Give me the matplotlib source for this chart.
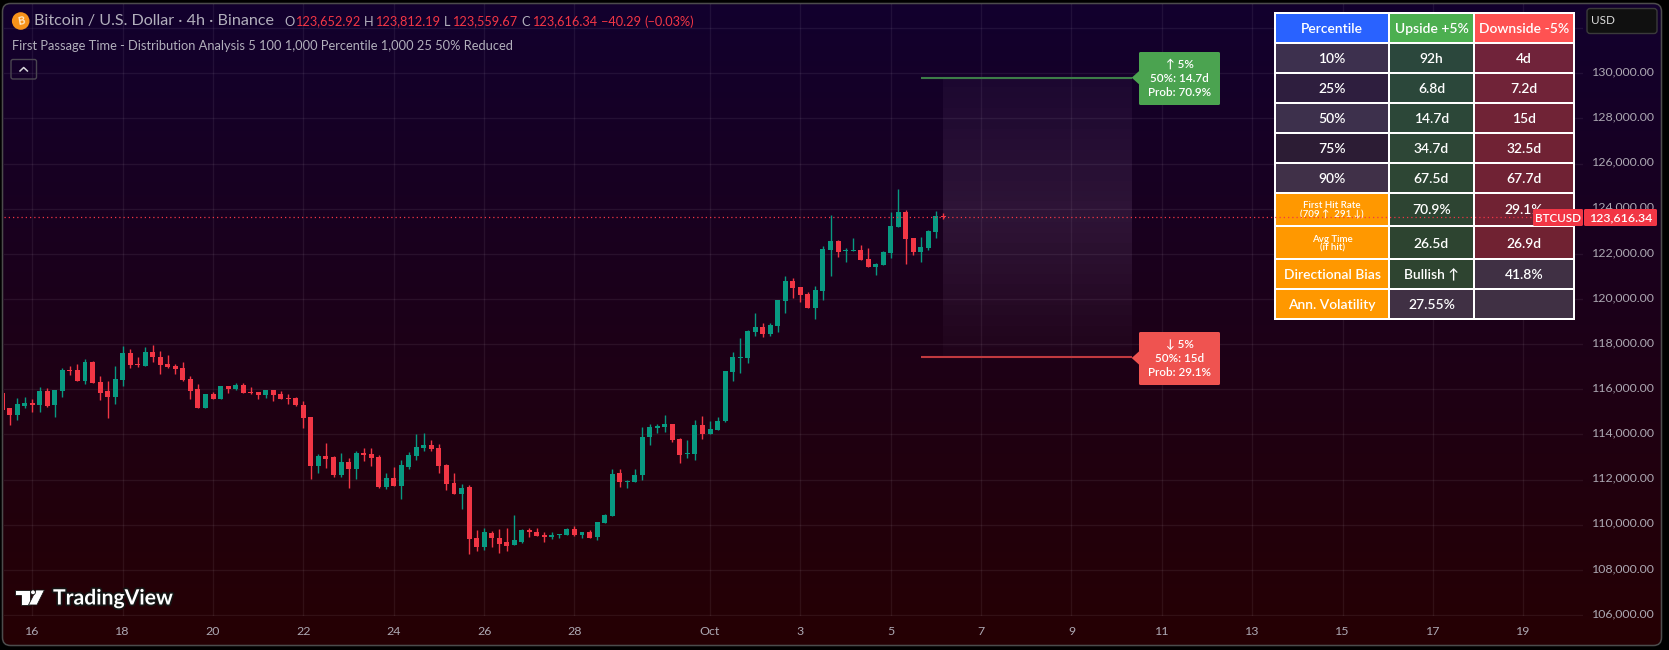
import numpy as np
import matplotlib
matplotlib.use("Agg")
import matplotlib.pyplot as plt
from matplotlib.patches import FancyBboxPatch, Polygon, Rectangle, Circle
from matplotlib.transforms import ScaledTranslation
import matplotlib.patheffects as pe

plt.rcParams['font.family'] = ['Lato', 'DejaVu Sans']

# 4h BTCUSD candles, oldest first
opens = [115840, 115170, 114860, 115260, 115390, 115310, 115930, 115310, 115930, 116860,
         116860, 116370, 117210, 116320, 115930, 115660, 116410, 117610, 117120, 117030,
         117650, 117430, 117120, 117030, 116950, 116460, 116010, 115170, 115790, 115570,
         116150, 116010, 116190, 115880, 115880, 115750, 115970, 115790, 115620, 115620,
         115310, 114770, 112600, 113050, 113000, 112200, 112780, 112470, 113180, 113140,
         113000, 111670, 112070, 111720, 112560, 113050, 113400, 113530, 113400, 112650,
         111850, 111360, 111670, 109410, 109020, 109640, 109410, 109240, 109100, 109240,
         109770, 109680, 109550, 109460, 109550, 109550, 109810, 109550, 109680, 109460,
         110080, 110390, 112290, 111890, 111890, 112200, 113890, 114290, 114330, 114460,
         113800, 113140, 113140, 114420, 114020, 114200, 114600, 116770, 117390, 117390,
         118540, 118760, 118450, 118810, 119910, 120800, 120530, 120220, 119600, 120360,
         122170, 122570, 122130, 122130, 122170, 121770, 121420, 121510, 122040, 123190,
         123860, 122700, 122080, 122260, 122970, 123652.92]
highs = [115840, 115170, 115620, 115660, 115570, 116100, 116060, 115970, 116950, 117030,
         117120, 117340, 117260, 116590, 116370, 117030, 117920, 117790, 117430, 117880,
         117960, 117700, 117520, 117120, 117210, 116590, 116240, 115790, 115880, 116150,
         116150, 116280, 116280, 116100, 115880, 115970, 115970, 115930, 115790, 115660,
         115480, 114770, 113140, 113620, 113050, 113180, 112960, 113270, 113400, 113400,
         113090, 112290, 112560, 112870, 113220, 114020, 114070, 113760, 113580, 112690,
         112290, 111810, 111760, 109770, 109860, 109720, 109810, 109860, 110430, 109810,
         109860, 109860, 109680, 109680, 109590, 109860, 109950, 109680, 109770, 110120,
         110480, 112470, 112470, 111980, 112470, 114330, 114460, 114460, 114860, 114460,
         113840, 113760, 114640, 114820, 114600, 114770, 116810, 117650, 118270, 118630,
         119380, 118940, 118940, 119960, 121020, 120930, 120530, 120310, 120580, 122350,
         123720, 122620, 122260, 122700, 122390, 122260, 121600, 122130, 123860, 124870,
         123940, 122700, 122750, 123060, 123900, 123812.19]
lows = [115080, 114420, 114640, 115170, 115000, 115000, 115220, 114770, 115660, 116640,
        116370, 116240, 116280, 115530, 114730, 115350, 116150, 116950, 116990, 117030,
        117210, 116680, 116950, 116680, 116370, 115570, 115170, 115170, 115570, 115570,
        115840, 115970, 115840, 115790, 115570, 115620, 115480, 115570, 115350, 115260,
        114290, 112030, 112290, 112510, 112120, 112120, 111630, 112030, 112830, 112600,
        111630, 111580, 111720, 111140, 112470, 112870, 113270, 113270, 112290, 111540,
        111360, 110700, 108700, 108840, 108880, 109020, 108750, 108840, 109100, 109190,
        109460, 109500, 109240, 109370, 109410, 109550, 109500, 109410, 109410, 109330,
        110080, 110390, 111670, 111630, 111890, 111980, 113530, 114070, 114110, 113670,
        112740, 112960, 112870, 113800, 114020, 114200, 114550, 116370, 116720, 117170,
        118360, 118320, 118360, 118540, 119380, 120050, 119870, 119600, 119120, 119960,
        121020, 121860, 121640, 122130, 121730, 121420, 121060, 121510, 121820, 123190,
        121550, 121950, 121640, 122170, 122700, 123559.67]
closes = [115080, 114860, 115350, 115390, 115310, 115930, 115260, 115970, 116860, 116810,
          116370, 117210, 116280, 115840, 115660, 116460, 117610, 117080, 117080, 117650,
          117430, 117080, 116990, 116900, 116410, 115930, 115170, 115790, 115570, 116150,
          116010, 116190, 115840, 115840, 115750, 115970, 115750, 115570, 115570, 115310,
          114730, 112600, 113050, 112910, 112200, 112780, 112470, 113180, 113090, 112960,
          111670, 112070, 111720, 112650, 113090, 113450, 113530, 113360, 112600, 111810,
          111360, 111630, 109370, 109020, 109680, 109410, 109150, 109060, 109330, 109770,
          109680, 109500, 109460, 109550, 109590, 109810, 109550, 109680, 109410, 110120,
          110430, 112250, 111890, 111940, 112200, 113890, 114330, 114380, 114460, 113760,
          113090, 113180, 114420, 114020, 114240, 114600, 116810, 117430, 117430, 118580,
          118760, 118450, 118850, 119960, 120800, 120490, 120180, 119600, 120400, 122220,
          122570, 122080, 122170, 122170, 121730, 121420, 121550, 122080, 123240, 123860,
          122660, 122080, 122300, 123010, 123680, 123616.34]

date_ticks = [5, 17, 29, 41, 53, 65, 77, 95, 107, 119, 131, 143, 155, 167, 179, 191, 203]
date_labels = ["16", "18", "20", "22", "24", "26", "28", "Oct", "3", "5", "7", "9", "11", "13", "15", "17", "19"]
price_ticks = [106000, 108000, 110000, 112000, 114000, 116000, 118000, 120000, 122000,
               124000, 126000, 128000, 130000, 132000]

last_price = 123616.34
upper_target = 129797.16
lower_target = 117435.52
target_start = 123
zone_start = 126
zone_end = 151

table_header = ["Percentile", "Upside +5%", "Downside -5%"]
row_labels = ["10%", "25%", "50%", "75%", "90%", "First Hit Rate\n(709 ↑  291 ↓)", "Avg Time\n(if hit)",
              "Directional Bias", "Ann. Volatility"]
upside_values = ["92h", "6.8d", "14.7d", "34.7d", "67.5d", "70.9%", "26.5d", "Bullish ↑", "27.55%"]
downside_values = ["4d", "7.2d", "15d", "32.5d", "67.7d", "29.1%", "26.9d", "41.8%", ""]

W, H = 1669, 650
GREEN = '#089981'
RED = '#f23645'
AXIS_TEXT = '#aca8b2'
XLIM = (1.242, 210.93)
YLIM = (105957, 133070)

fig = plt.figure(figsize=(W / 100, H / 100), dpi=100, facecolor='#000000')

# page layer: rounded frame with the top to bottom colour fade
back = fig.add_axes([0, 0, 1, 1], zorder=0)
top_col = np.array([18, 0, 46]) / 255
bot_col = np.array([38, 0, 3]) / 255
fade = np.linspace(0, 1, 256)[:, None, None] * (bot_col - top_col) + top_col
im = back.imshow(fade, extent=(0, W, H, 0), aspect='auto', origin='upper', interpolation='bilinear')
frame = FancyBboxPatch((2.5, 3.5), 1659, 642, boxstyle="round,pad=0,rounding_size=8",
                       fc='none', ec='#4c4c4c', lw=1.1)
back.add_patch(frame)
im.set_clip_path(frame)
back.set_xlim(0, W)
back.set_ylim(H, 0)
back.axis('off')

# price pane, limits put one bar at 7.53 px and 2000 USD at 45.13 px
pane = [4 / W, 1 - 616 / H, 1579 / W, 612 / H]
ax = fig.add_axes(pane, zorder=1)
ax.patch.set_alpha(0)
ax.set_axisbelow(True)
ax.grid(color='white', alpha=0.065, lw=1)
for s in ax.spines.values():
    s.set_visible(False)
ax.yaxis.tick_right()
ax.set_yticks(price_ticks)
ax.set_yticklabels([f"{p:,.2f}" if p < 132000 else "" for p in price_ticks])
ax.set_xticks(date_ticks)
ax.set_xticklabels(date_labels)
ax.tick_params(axis='y', length=0, pad=6.5, colors=AXIS_TEXT, labelsize=8.9)
ax.tick_params(axis='x', length=0, pad=7, colors=AXIS_TEXT, labelsize=8.9)
# price labels sit a little above their grid lines
lift = ScaledTranslation(0, 2.4 / 100, fig.dpi_scale_trans)
for t in ax.get_yticklabels():
    t.set_transform(t.get_transform() + lift)

bars = np.arange(1, len(opens) + 1)
o, h, l, c = map(np.array, (opens, highs, lows, closes))
colors = [GREEN if cl >= op else RED for op, cl in zip(opens, closes)]
ax.vlines(bars, l, h, colors=colors, lw=1, zorder=3)
ax.bar(bars, np.maximum(np.abs(c - o), 44), bottom=np.minimum(o, c), width=0.66, color=colors, lw=0, zorder=4)

# banded glow between the two targets
levels = np.interp(np.linspace(0, 1, 27), [0, 0.5, 1], [0.05, 0.125, 0.025])
glow = np.zeros((27, 1, 4))
glow[..., :3] = np.array([205, 165, 220]) / 255
glow[:, 0, 3] = levels
ax.imshow(glow, extent=(zone_start, zone_end, lower_target, upper_target), aspect='auto',
          origin='upper', interpolation='nearest', zorder=2)
ax.set_xlim(XLIM)
ax.set_ylim(YLIM)

ax.plot([target_start, zone_end], [upper_target, upper_target], color='#3d7d48', lw=1.5, solid_capstyle='butt', zorder=5)
ax.plot([target_start, zone_end], [lower_target, lower_target], color='#c0393f', lw=1.5, solid_capstyle='butt', zorder=5)

# overlay in pixel units: header, table, callouts, tags
over = fig.add_axes([0, 0, 1, 1], zorder=2)
over.patch.set_alpha(0)
over.set_xlim(0, W)
over.set_ylim(H, 0)
over.axis('off')


def label(x, y, s, color='white', size=9, ha='center', weight='normal', **kw):
    return over.text(x, y, s, color=color, fontsize=size, ha=ha, va='center', fontweight=weight, **kw)


def box(x0, y0, x1, y1, fc, ec='none', radius=1.5, lw=1, zorder=3):
    over.add_patch(FancyBboxPatch((x0, y0), x1 - x0, y1 - y0, boxstyle=f"round,pad=0,rounding_size={radius}",
                                  fc=fc, ec=ec, lw=lw, zorder=zorder))


# symbol header
HEAD = '#b2b0bc'
over.add_patch(Circle((20.7, 21), 8.8, fc='#f7931a', ec='none'))
over.text(20.8, 21, "B", color='#ffe9c8', fontsize=8, ha='center', va='center', fontweight='bold', rotation=10)
label(34, 21.5, "Bitcoin / U.S. Dollar · 4h · Binance", HEAD, 11.6, ha='left')
for x, s in [(284, "O"), (364, "H"), (444, "L"), (521.5, "C")]:
    label(x, 21.5, s, HEAD, 9.2, ha='left')
for x, s in [(294.6, "123,652.92"), (375, "123,812.19"), (452, "123,559.67"), (531.7, "123,616.34"),
             (600.7, "−40.29"), (644, "(−0.03%)")]:
    label(x, 21.5, s, RED, 9.2, ha='left')
label(12, 46, "First Passage Time - Distribution Analysis 5 100 1,000 Percentile 1,000 25 50% Reduced", HEAD, 9.3, ha='left')
box(11, 59.5, 36.5, 79, 'none', ec='#4a4650', radius=2)
over.plot([20, 23.7, 27.4], [71, 67.5, 71], color='#d8d8dc', lw=1.1)

# watermark
stroke = [pe.withStroke(linewidth=2.5, foreground='#141414')]
logo = [
    Polygon([(15, 590), (30, 590), (30, 605), (21, 605), (21, 594.5), (15, 594.5)], closed=True),
    Polygon([(36, 590), (44.5, 590), (37, 605), (28.5, 605)], closed=True),
    Circle((33, 592.3), 2.4),
]
for part in logo:
    part.set(fc='white', ec='#141414', lw=0.6)
    over.add_patch(part)
label(53, 598.5, "TradingView", 'white', 15.2, ha='left', weight='bold', path_effects=stroke)

# statistics table
columns = [(1276, 1388), (1390, 1473), (1475, 1573)]
rows = [(14, 42), (44, 72), (74, 102), (104, 132), (134, 162), (164, 192), (194, 225), (227, 258), (260, 288), (290, 318)]
over.add_patch(Rectangle((1274, 12), 301, 308, fc='white', ec='none', zorder=2.5))
first_col = ['#3d304e', '#2e1e3e', '#3d304c', '#2c1c34', '#403048', '#ff9800', '#ff9800', '#ff9800', '#ff9800']
up_col = ['#2b473c', '#2b473a', '#2c4738', '#2d4636', '#2d4634', '#2d4432', '#2d4430', '#2e4430', '#403044']
down_col = ['#70233a', '#702338', '#702336', '#702234', '#702234', '#702233', '#702232', '#403044', '#403044']
head_col = ['#2962ff', '#4caf50', '#ff5252']


def cell(col, row, fc, text, size=10, weight=600):
    x0, x1 = columns[col]
    y0, y1 = rows[row]
    over.add_patch(Rectangle((x0, y0), x1 - x0, y1 - y0, fc=fc, ec='none', zorder=2.6))
    label((x0 + x1) / 2, (y0 + y1) / 2 + 1, text, 'white', size, weight=weight, zorder=2.7, linespacing=0.95)


for j, name in enumerate(table_header):
    cell(j, 0, head_col[j], name)
for i, name in enumerate(row_labels):
    small = name.startswith(("First", "Avg"))
    cell(0, i + 1, first_col[i], name, size=7 if small else 10)
    cell(1, i + 1, up_col[i], upside_values[i])
    cell(2, i + 1, down_col[i], downside_values[i])

# target callouts
for y0, y1, tip, fc, lines in [(52, 105, 77.7, '#4ba350', ["↑ 5%", "50%: 14.7d", "Prob: 70.9%"]),
                               (332, 385, 358, '#ef5350', ["↓ 5%", "50%: 15d", "Prob: 29.1%"])]:
    box(1139, y0, 1220, y1, fc, zorder=3)
    over.add_patch(Polygon([(1131.7, tip), (1139.5, tip - 7), (1139.5, tip + 7)], closed=True, fc=fc, ec='none', zorder=3))
    for k, t in enumerate(lines):
        label(1179.5, y0 + 12 + k * 14.3, t, 'white', 8.4, weight=600, zorder=3.1)

# last price marker above everything else in the pane
top = fig.add_axes(pane, zorder=3)
top.patch.set_alpha(0)
top.axis('off')
top.set_xlim(XLIM)
top.set_ylim(YLIM)
top.axhline(last_price, color=RED, lw=0.9, ls=(0, (1, 2.4)))

tags = fig.add_axes([0, 0, 1, 1], zorder=4)
tags.patch.set_alpha(0)
tags.set_xlim(0, W)
tags.set_ylim(H, 0)
tags.axis('off')
for x0, x1, s, size in [(1533, 1583, "BTCUSD", 8.4), (1584, 1657, "123,616.34", 8.9)]:
    tags.add_patch(FancyBboxPatch((x0, 209), x1 - x0, 17, boxstyle="round,pad=0,rounding_size=1.5", fc=RED, ec='none'))
    tags.text((x0 + x1) / 2, 218, s, color='white', fontsize=size, ha='center', va='center', fontweight=600)
tags.add_patch(FancyBboxPatch((1587, 8.5), 70, 25, boxstyle="round,pad=0,rounding_size=3", fc='#101010', ec='#3a3a3a', lw=1))
tags.text(1591, 21, "USD", color='#dcdcdc', fontsize=8.4, ha='left', va='center')

fig.savefig("out.png", dpi=100, facecolor=fig.get_facecolor())
